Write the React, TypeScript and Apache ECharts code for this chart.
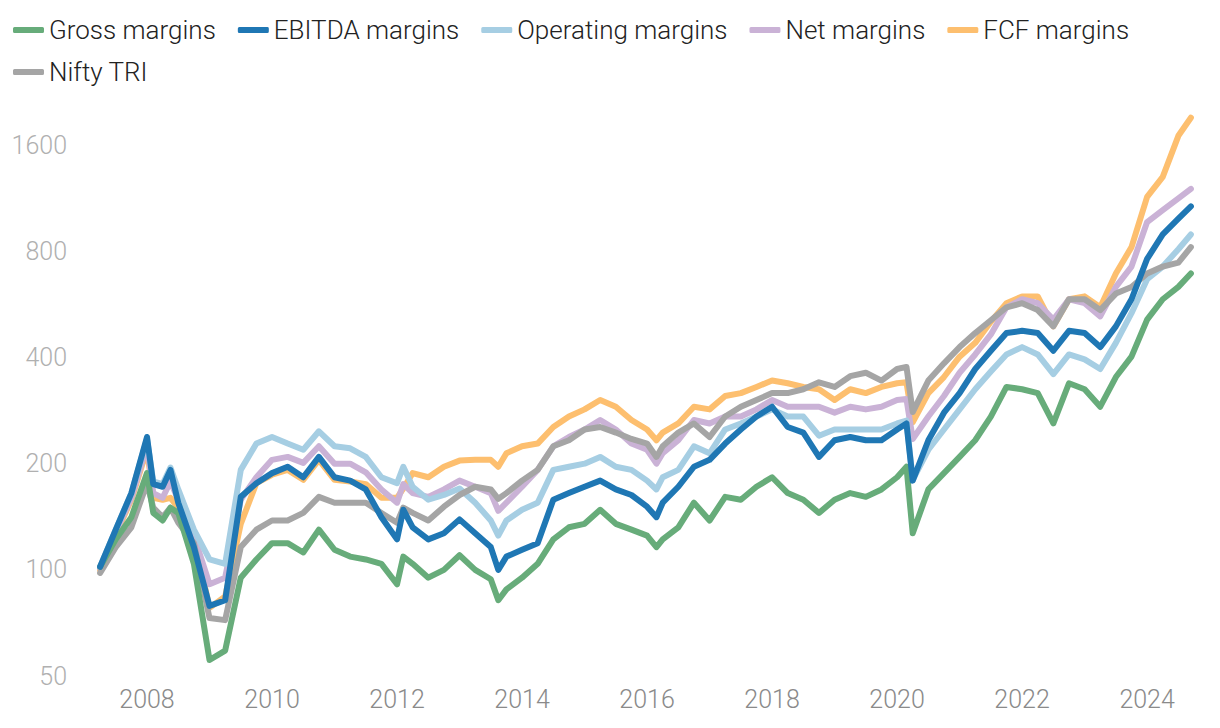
import React, { useEffect, useRef } from "react";
import * as echarts from "echarts";

const dates = [2007.25, 2007.5, 2007.75, 2008, 2008.1, 2008.25, 2008.375, 2008.5, 2008.75, 2009, 2009.25, 2009.5, 2009.75, 2010, 2010.25, 2010.5, 2010.75, 2011, 2011.25, 2011.5, 2011.75, 2012, 2012.1, 2012.25, 2012.5, 2012.75, 2013, 2013.25, 2013.5, 2013.62, 2013.75, 2014, 2014.25, 2014.5, 2014.75, 2015, 2015.25, 2015.5, 2015.75, 2016, 2016.15, 2016.25, 2016.5, 2016.75, 2017, 2017.25, 2017.5, 2017.75, 2018, 2018.25, 2018.5, 2018.75, 2019, 2019.25, 2019.5, 2019.75, 2020, 2020.15, 2020.25, 2020.5, 2020.75, 2021, 2021.25, 2021.5, 2021.75, 2022, 2022.25, 2022.5, 2022.75, 2023, 2023.25, 2023.5, 2023.75, 2024, 2024.25, 2024.5, 2024.7];

const gross = [102, 122, 141, 188, 145, 138, 150, 145, 104, 55.5, 59, 95, 107, 119, 119, 112, 130, 114, 109, 107, 104, 91, 109, 104, 95, 100, 110, 100, 94, 82, 88, 95, 104, 122, 132, 135, 148, 135, 130, 125, 116, 122, 132, 155, 138, 161, 158, 172, 183, 165, 158, 145, 158, 165, 161, 169, 183, 196, 127, 169, 188, 209, 233, 272, 330, 325, 317, 260, 338, 325, 290, 352, 402, 512, 585, 634, 692];
const ebitda = [102, 130, 165, 238, 175, 172, 192, 155, 116, 79, 82, 161, 176, 188, 196, 183, 209, 183, 179, 169, 141, 122, 148, 132, 122, 127, 139, 127, 116, 100, 109, 114, 119, 158, 165, 172, 179, 169, 163, 151, 141, 155, 172, 196, 205, 228, 250, 272, 290, 254, 245, 209, 233, 238, 233, 233, 250, 260, 179, 233, 279, 317, 371, 418, 469, 476, 469, 418, 476, 469, 428, 490, 585, 761, 893, 990, 1072];
const operating = [102, 130, 165, 235, 178, 175, 195, 169, 130, 107, 104, 192, 228, 238, 228, 219, 247, 224, 221, 209, 183, 176, 196, 172, 158, 163, 170, 155, 138, 125, 138, 148, 155, 192, 196, 200, 209, 196, 192, 179, 169, 183, 192, 224, 214, 250, 260, 272, 285, 272, 272, 240, 250, 250, 250, 250, 260, 265, 180, 219, 250, 285, 325, 365, 408, 428, 408, 359, 408, 395, 371, 440, 534, 667, 724, 811, 893];
const net = [101, 128, 160, 225, 165, 160, 178, 158, 125, 91, 95, 158, 183, 205, 209, 201, 224, 200, 200, 189, 169, 155, 175, 165, 161, 169, 179, 172, 165, 147, 155, 172, 192, 224, 238, 250, 266, 250, 228, 219, 200, 214, 233, 266, 260, 272, 272, 285, 303, 290, 290, 290, 279, 290, 285, 290, 303, 305, 235, 272, 311, 362, 408, 465, 555, 585, 570, 512, 585, 570, 523, 634, 724, 968, 1047, 1130, 1202];
const fcf = [100, 126, 158, 220, 160, 158, 160, 150, 125, 78, 84, 135, 176, 186, 192, 180, 205, 180, 178, 175, 160, 160, 170, 188, 183, 196, 204, 205, 205, 196, 214, 224, 228, 254, 272, 285, 303, 290, 266, 250, 233, 245, 260, 290, 285, 311, 317, 330, 344, 338, 330, 325, 303, 325, 317, 330, 338, 340, 262, 317, 352, 402, 440, 505, 570, 596, 596, 490, 585, 596, 555, 692, 822, 1141, 1300, 1700, 1913];
const nifty = [98, 116, 132, 176, 150, 141, 150, 136, 119, 73, 72, 116, 130, 138, 138, 145, 161, 155, 155, 155, 145, 136, 150, 145, 138, 151, 163, 172, 169, 159, 165, 179, 192, 224, 233, 250, 254, 245, 235, 228, 209, 224, 245, 260, 238, 272, 290, 303, 317, 317, 325, 340, 330, 354, 362, 344, 371, 376, 280, 344, 385, 428, 469, 510, 555, 570, 545, 490, 585, 585, 545, 607, 634, 692, 724, 743, 822];

const legendOrder = ["Gross margins", "EBITDA margins", "Operating margins", "Net margins", "FCF margins", "Nifty TRI"];
const yTicks = [50, 100, 200, 400, 800, 1600];
const xTicks = [2008, 2010, 2012, 2014, 2016, 2018, 2020, 2022, 2024];

// drawing order (bottom to top)
const seriesDefs = [
  { name: "FCF margins", values: fcf, color: "#fdbf6f" },
  { name: "Net margins", values: net, color: "#cab2d6" },
  { name: "Operating margins", values: operating, color: "#a6cee3" },
  { name: "Nifty TRI", values: nifty, color: "#a5a5a5" },
  { name: "Gross margins", values: gross, color: "#67ac7a" },
  { name: "EBITDA margins", values: ebitda, color: "#1f77b4" },
];

export default function App() {
  const ref = useRef<HTMLDivElement>(null);
  useEffect(() => {
    if (!ref.current) return;
    const chart = echarts.init(ref.current, undefined, { renderer: "svg" });
    const font = "Roboto";
    chart.setOption({
      animation: false,
      backgroundColor: "#ffffff",
      legend: {
        data: legendOrder,
        left: 8,
        top: 12,
        itemGap: 16,
        itemWidth: 31,
        itemHeight: 6,
        icon: "roundRect",
        textStyle: {
          fontFamily: font,
          fontSize: 26,
          fontWeight: 300,
          color: "#222222",
          lineHeight: 20,
          padding: [0, 6, 0, 0],
        },
      },
      grid: { left: 97, right: 26, top: 92, bottom: 52 },
      xAxis: {
        type: "value",
        min: 2007.2,
        max: 2024.75,
        axisLine: { show: false },
        axisTick: { show: false },
        splitLine: { show: false },
        axisLabel: {
          customValues: xTicks,
          formatter: (v: number) => String(v),
          color: "#8a8a8a",
          fontFamily: font,
          fontWeight: 300,
          fontSize: 25,
          margin: 11,
        },
      },
      yAxis: {
        type: "log",
        logBase: 2,
        min: 50,
        max: 2263,
        axisLine: { show: false },
        axisTick: { show: false },
        splitLine: { show: false },
        axisLabel: {
          customValues: yTicks,
          formatter: (v: number) => String(Math.round(v)),
          color: "#b0b0b0",
          fontFamily: font,
          fontWeight: 300,
          fontSize: 25,
          margin: 30,
        },
      },
      series: seriesDefs.map((s) => ({
        name: s.name,
        type: "line",
        showSymbol: false,
        symbol: "none",
        color: s.color,
        lineStyle: { width: 6, color: s.color, cap: "round", join: "round" },
        data: s.values.map((v, i) => [dates[i], v]),
      })),
    });
    return () => chart.dispose();
  }, []);
  return (
    <div
      ref={ref}
      style={{ position: "fixed", left: 0, top: 0, width: 1220, height: 728 }}
    />
  );
}
